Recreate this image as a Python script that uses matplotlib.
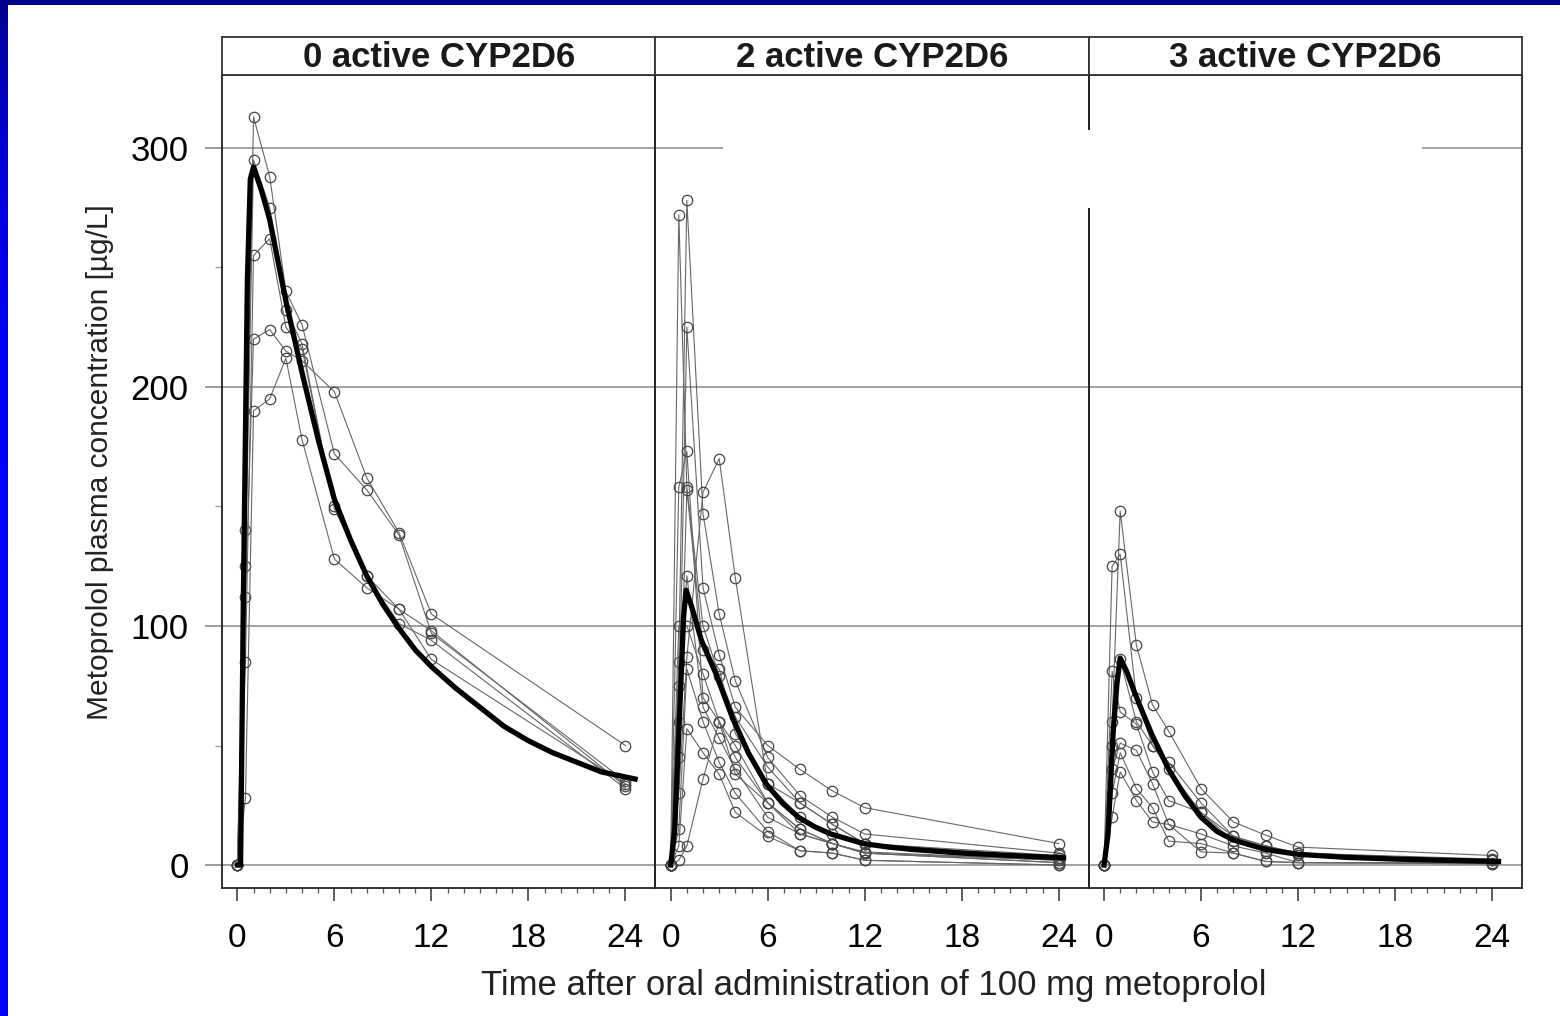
import matplotlib
matplotlib.use("Agg")
import matplotlib.pyplot as plt
import numpy as np
from matplotlib.patches import Rectangle
from matplotlib.ticker import FixedLocator

plt.rcParams['font.family'] = ['Liberation Sans', 'DejaVu Sans']

# ---- data ----
panel_titles = ['0 active CYP2D6', '2 active CYP2D6', '3 active CYP2D6']
times = [0, 0.5, 1, 2, 3, 4, 6, 8, 10, 12, 24]

# individual subjects, 0 active CYP2D6
subj0 = [
    [0, 140, 313, 288, 240, 226, 172, 157, 138, 97, 35],
    [0, 125, 295, 275, 232, 218, 149, 121, 101, 94, 32],
    [0, 112, 220, 224, 215, 211, 198, 162, 139, 105, 50],
    [0, 28, 190, 195, 212, 178, 128, 116, 107, 86, 34],
    [0, 85, 255, 262, 225, 216, 150, 121, 107, 98, 33],
]
# 2 active CYP2D6
subj2 = [
    [0, 272, 158, 100, 79, 62, 41, 26, 17, 9, 3],
    [0, 85, 278, 147, 105, 77, 45, 29, 20, 13, 5],
    [0, 60, 225, 116, 88, 66, 50, 40, 31, 24, 9],
    [0, 158, 173, 70, 60, 38, 26, 15, 9, 5.5, 2],
    [0, 30, 87, 156, 170, 120, 34, 26, 17, 9, 4],
    [0, 45, 157, 90, 82, 55, 34, 20, 13, 9, 3],
    [0, 75, 121, 66, 53, 40, 20, 13, 9, 5, 1],
    [0, 15, 82, 60, 43, 30, 14, 6, 5, 2, 0],
    [0, 8, 57, 47, 38, 22, 12, 6, 5, 2, 0],
    [0, 2, 8, 36, 60, 50, 26, 15, 9, 5, 1],
    [0, 100, 100, 80, 60, 45, 26, 13, 9, 5, 2],
]
# 3 active CYP2D6
subj3 = [
    [0, 60, 148, 92, 67, 56, 32, 18, 12.5, 7.5, 4],
    [0, 125, 130, 70, 50, 43, 26, 12, 8, 5, 2.5],
    [0, 81, 64, 59, 39, 27, 22, 12, 8, 5, 2],
    [0, 40, 51, 48, 34, 17, 13, 8, 5, 1, 1],
    [0, 30, 47, 32, 24, 10, 9, 5, 1.5, 1, 0.5],
    [0, 20, 39, 27, 18, 17, 5.5, 5, 1.5, 1, 0.5],
    [0, 50, 86, 60, 50, 40, 22, 10, 6, 4, 2],
]

# population mean curves (thick line)
mean0_t = [0, 0.2, 0.37, 0.62, 0.8, 1.0, 1.5, 2, 3, 4, 5, 6, 7, 8, 9, 10, 11, 12,
           13.5, 15, 16.5, 18, 19.5, 21, 22.5, 24.6]
mean0_v = [0, 0, 111, 245, 287, 292, 282, 270, 236, 206, 178, 153, 136, 121, 109, 99, 90, 83,
           74, 66, 58, 52, 47, 43, 39, 36]
mean2_t = [0, 0.25, 0.5, 0.8, 0.95, 1.3, 1.9, 2.8, 3.8, 4.8, 5.9, 6.9, 7.9, 8.9, 9.9, 11.9,
           13.5, 15, 18, 21, 24.3]
mean2_v = [0, 15, 55, 104, 115, 108, 94, 80, 62, 47, 34, 26, 20, 16, 13, 9,
           7.5, 6.5, 5, 4, 3]
mean3_t = [0, 0.25, 0.56, 0.8, 1.0, 1.4, 1.9, 2.5, 3, 4, 5, 6, 7, 8, 10, 12, 15, 18, 21, 24.4]
mean3_v = [0, 13, 55, 76, 86.6, 81, 72, 62, 54, 40, 29, 20, 14, 10.5, 6.5, 4.5, 3.2, 2.5, 2, 1.5]

subjects = [subj0, subj2, subj3]
means = [(mean0_t, mean0_v), (mean2_t, mean2_v), (mean3_t, mean3_v)]

# ---- figure ----
W, H = 1560, 1016
fig = plt.figure(figsize=(W / 100, H / 100), dpi=100)
fig.patch.set_facecolor('white')

def fx(px):
    return px / W

def fy(py):
    return 1 - py / H

left, right = 222, 1522
top_plot, bottom_plot = 75, 888
strip_top = 37
pw = (right - left) / 3

for i in range(3):
    x0 = left + i * pw
    ax = fig.add_axes([fx(x0), fy(bottom_plot), fx(pw), (bottom_plot - top_plot) / H])
    ax.set_xlim(-0.95, 25.85)
    ax.set_ylim(-9.6, 330.5)
    for yy in [0, 100, 200, 300]:
        ax.axhline(yy, color='#9a9a9a', lw=1.3, zorder=1)
    for s in subjects[i]:
        ax.plot(times, s, color='#666666', lw=0.8, marker='o', ms=7.5,
                mfc='none', mec='#444444', mew=0.9, zorder=2)
    mt, mv = means[i]
    ax.plot(mt, mv, color='black', lw=3.8, solid_joinstyle='round', zorder=3)

    for sp in ax.spines.values():
        sp.set_color('#222222')
        sp.set_linewidth(1.3)
    ax.set_xticks([0, 6, 12, 18, 24])
    ax.xaxis.set_minor_locator(FixedLocator(range(0, 25)))
    ax.tick_params(axis='x', which='major', direction='out', length=9.5, width=1.1,
                   color='#333333', labelsize=24, pad=16)
    ax.tick_params(axis='x', which='minor', direction='out', length=3.6, width=0.9,
                   color='#555555')
    if i == 0:
        ax.set_yticks([0, 100, 200, 300])
        ax.yaxis.set_minor_locator(FixedLocator([50, 150, 250]))
        ax.tick_params(axis='y', which='major', direction='out', length=12, width=1.2,
                       color='#8a8a8a', labelsize=25, pad=12)
        ax.tick_params(axis='y', which='minor', direction='out', length=5, width=0.9,
                       color='#9a9a9a')
    else:
        ax.set_yticks([])
    ax.set_facecolor('none')

    sax = fig.add_axes([fx(x0), fy(top_plot), fx(pw), (top_plot - strip_top) / H])
    sax.set_xticks([])
    sax.set_yticks([])
    for sp in sax.spines.values():
        sp.set_color('#333333')
        sp.set_linewidth(1.3)
    sax.text(0.5, 0.46, panel_titles[i], ha='center', va='center',
             fontsize=25, fontweight='bold', color='#1a1a1a', transform=sax.transAxes)

fig.text(fx(874), fy(986), 'Time after oral administration of 100 mg metoprolol',
         ha='center', va='center', fontsize=25, color='#222222')
fig.text(fx(100), fy(462), 'Metoprolol plasma concentration [\u00b5g/L]',
         ha='center', va='center', rotation=90, fontsize=21.5, color='#222222')

# white patch that hides part of the grid in the original
fig.patches.append(Rectangle((fx(723), fy(208)), fx(1422 - 723), (208 - 130) / H,
                             transform=fig.transFigure, facecolor='white',
                             edgecolor='none', zorder=10))

# slide border: dark top band, blue left band
fig.patches.append(Rectangle((0, fy(5)), 1, 5 / H, transform=fig.transFigure,
                             facecolor='#00008c', edgecolor='none', zorder=11))
grad = np.linspace(0, 1, 256).reshape(-1, 1)
bax = fig.add_axes([0, 0, fx(8), 1])
bax.imshow(np.dstack([np.zeros_like(grad), np.zeros_like(grad), 1.0 - 0.45 * grad ** 6]),
           aspect='auto', extent=[0, 1, 0, 1], origin='lower')
bax.axis('off')

fig.savefig('out.png', dpi=100)
